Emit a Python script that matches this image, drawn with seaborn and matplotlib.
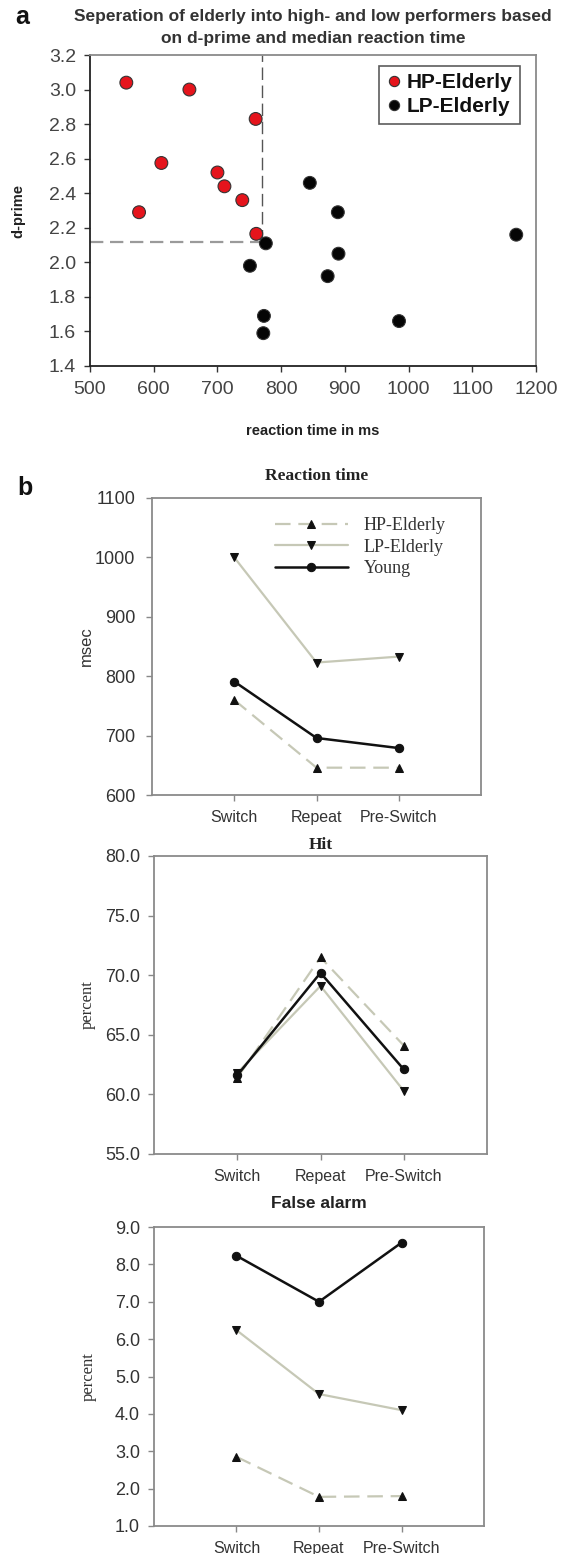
import numpy as np
import pandas as pd
import matplotlib
matplotlib.use("Agg")
import matplotlib.pyplot as plt
import seaborn as sns

# ---------------- data ----------------
hp_rt = [557, 656, 760, 612, 577, 700, 711, 739, 761]
hp_dprime = [3.04, 3.00, 2.83, 2.575, 2.29, 2.52, 2.44, 2.36, 2.165]
lp_rt = [845, 889, 1169, 776, 751, 890, 873, 773, 772, 985]
lp_dprime = [2.46, 2.29, 2.16, 2.11, 1.98, 2.05, 1.92, 1.69, 1.59, 1.66]
rt_cutoff = 770
dprime_cutoff = 2.12

groups = ["HP-Elderly", "LP-Elderly", "Young"]
conditions = ["Switch", "Repeat", "Pre-Switch"]
rt_hp = [760, 646, 646]
rt_lp = [1000, 823, 833]
rt_young = [791, 696, 679]
hit_hp = [61.4, 71.5, 64.1]
hit_lp = [61.8, 69.1, 60.3]
hit_young = [61.6, 70.2, 62.1]
fa_hp = [2.85, 1.78, 1.80]
fa_lp = [6.24, 4.53, 4.10]
fa_young = [8.23, 7.00, 8.58]

rt_ticks = [600, 700, 800, 900, 1000, 1100]
hit_ticks = [55.0, 60.0, 65.0, 70.0, 75.0, 80.0]
fa_ticks = [1.0, 2.0, 3.0, 4.0, 5.0, 6.0, 7.0, 8.0, 9.0]

title_lines = ["Seperation of elderly into high- and low performers based",
               "on d-prime and median reaction time"]

# ---------------- style ----------------
sns.set_theme(style="white")
plt.rcParams["font.family"] = ["Liberation Sans", "DejaVu Sans"]
SANS = ["Liberation Sans", "DejaVu Sans"]
SERIF = ["Liberation Serif", "DejaVu Serif"]

W, H = 563, 1554
fig = plt.figure(figsize=(W / 100, H / 100), dpi=100)
fig.patch.set_facecolor("white")


def rect(l, t, r, b):
    return [l / W, 1 - b / H, (r - l) / W, (b - t) / H]


# ---------------- panel a ----------------
axa = fig.add_axes(rect(90, 55, 536, 366))
df_a = pd.DataFrame({
    "rt": hp_rt + lp_rt,
    "dprime": hp_dprime + lp_dprime,
    "group": ["HP-Elderly"] * len(hp_rt) + ["LP-Elderly"] * len(lp_rt),
})
axa.plot([500, rt_cutoff], [dprime_cutoff, dprime_cutoff], color="#9a9a9a",
         lw=1.6, linestyle=(0, (6, 3)), zorder=1)
axa.plot([rt_cutoff, rt_cutoff], [dprime_cutoff, 3.2], color="#555555",
         lw=1.0, linestyle=(0, (9, 4)), zorder=1)
sns.scatterplot(data=df_a, x="rt", y="dprime", hue="group",
                palette={"HP-Elderly": "#e5141c", "LP-Elderly": "#050505"},
                s=85, edgecolor="#333333", linewidth=0.8, ax=axa, zorder=3)
axa.set_xlim(500, 1200)
axa.set_ylim(1.4, 3.2)
axa.set_xticks(np.arange(500, 1201, 100))
axa.set_yticks(np.arange(1.4, 3.21, 0.2))
axa.yaxis.set_major_formatter(matplotlib.ticker.FormatStrFormatter("%.1f"))
axa.tick_params(axis="both", labelsize=14, labelcolor="#444444", colors="#333333",
                direction="out", length=4, width=1.0)
axa.tick_params(axis="y", left=True, pad=6)
axa.tick_params(axis="x", bottom=True, pad=7)
for sp in ["left", "bottom"]:
    axa.spines[sp].set_color("#222222")
    axa.spines[sp].set_linewidth(1.3)
for sp in ["top", "right"]:
    axa.spines[sp].set_color("#8a8a8a")
    axa.spines[sp].set_linewidth(1.3)
axa.set_xlabel("reaction time in ms", fontsize=10.5, fontweight="bold", color="#222222",
               va="center")
axa.set_ylabel("d-prime", fontsize=10.5, fontweight="bold", color="#222222",
               va="center")
axa.xaxis.set_label_coords(0.5, -0.209)
axa.yaxis.set_label_coords(-0.161, 0.5)
leg = axa.legend(loc="upper right", bbox_to_anchor=(0.964, 0.965), borderaxespad=0,
                 frameon=True, fancybox=False, edgecolor="#333333",
                 prop={"family": SANS, "weight": "bold", "size": 15},
                 handletextpad=0.2, borderpad=0.35, labelspacing=0.25,
                 markerscale=0.8, handlelength=0.8)
leg.get_frame().set_linewidth(1.2)
for t in leg.get_texts():
    t.set_color("#111111")

for yy, line in zip([17, 39], title_lines):
    fig.text(313 / W, 1 - yy / H, line, ha="center", va="center", fontsize=12.5,
             fontweight="bold", color="#333333", family=SANS)
fig.text(22 / W, 1 - 17 / H, "a", ha="center", va="center", fontsize=18,
         fontweight="bold", color="#111111", family=SANS)
fig.text(25 / W, 1 - 488 / H, "b", ha="center", va="center", fontsize=18,
         fontweight="bold", color="#111111", family=SANS)

# ---------------- panel b ----------------
styles = {
    "HP-Elderly": dict(color="#c6c8b6", linestyle=(0, (7, 3.5)), marker="^", lw=1.6),
    "LP-Elderly": dict(color="#c6c8b6", linestyle="-", marker="v", lw=1.6),
    "Young": dict(color="#111111", linestyle="-", marker="o", lw=1.8),
}


def line_panel(box, series, ticks, fmt, ylabel, ylabel_family, title, title_family,
               title_off, legend=False, ylab_x=-0.2, ytick_pad=6):
    ax = fig.add_axes(rect(*box))
    for g, vals in zip(groups, series):
        st = styles[g]
        d = pd.DataFrame({"condition": conditions, "value": vals})
        sns.lineplot(data=d, x="condition", y="value", ax=ax, color=st["color"],
                     linestyle=st["linestyle"], lw=st["lw"], marker=st["marker"],
                     markersize=6, markerfacecolor="#111111", markeredgecolor="#111111",
                     label=g, sort=False)
    ax.set_xlim(-1, 3)
    ax.set_ylim(ticks[0], ticks[-1])
    ax.set_yticks(ticks)
    ax.yaxis.set_major_formatter(matplotlib.ticker.FormatStrFormatter(fmt))
    ax.tick_params(axis="y", left=True, direction="out", length=4, width=1.0,
                   colors="#888888", labelcolor="#333333", labelsize=13, pad=ytick_pad)
    ax.tick_params(axis="x", bottom=True, direction="out", length=4, width=1.0,
                   colors="#888888", labelcolor="#333333", labelsize=11.5, pad=7)
    for sp in ax.spines.values():
        sp.set_color("#8a8a8a")
        sp.set_linewidth(1.3)
    ax.set_xlabel("")
    ax.set_ylabel(ylabel, fontsize=12, color="#333333", family=ylabel_family,
                  va="center")
    ax.yaxis.set_label_coords(ylab_x, 0.5)
    ax.text(0.5, 1 + title_off, title, transform=ax.transAxes, ha="center",
            va="center", fontsize=12.5, fontweight="bold", color="#222222",
            family=title_family)
    if legend:
        lg = ax.legend(loc="upper left", bbox_to_anchor=(0.375, 0.935), borderaxespad=0,
                       frameon=False, prop={"family": SERIF, "size": 13},
                       handlelength=4.0, handletextpad=0.9, labelspacing=0.25,
                       borderpad=0)
        for t in lg.get_texts():
            t.set_color("#333333")
    else:
        if ax.get_legend() is not None:
            ax.get_legend().remove()
    return ax


line_panel((152, 498, 481, 795), [rt_hp, rt_lp, rt_young], rt_ticks, "%d",
           "msec", SANS, "Reaction time", SERIF, 0.074, legend=True,
           ylab_x=-0.2, ytick_pad=8)
line_panel((154, 856, 487, 1154), [hit_hp, hit_lp, hit_young], hit_ticks, "%.1f",
           "percent", SERIF, "Hit", SERIF, 0.037, ylab_x=-0.198, ytick_pad=6)
line_panel((154, 1227, 484, 1526), [fa_hp, fa_lp, fa_young], fa_ticks, "%.1f",
           "percent", SERIF, "False alarm", SANS, 0.077, ylab_x=-0.198, ytick_pad=6)

fig.savefig("out.png", dpi=100, facecolor="white")
